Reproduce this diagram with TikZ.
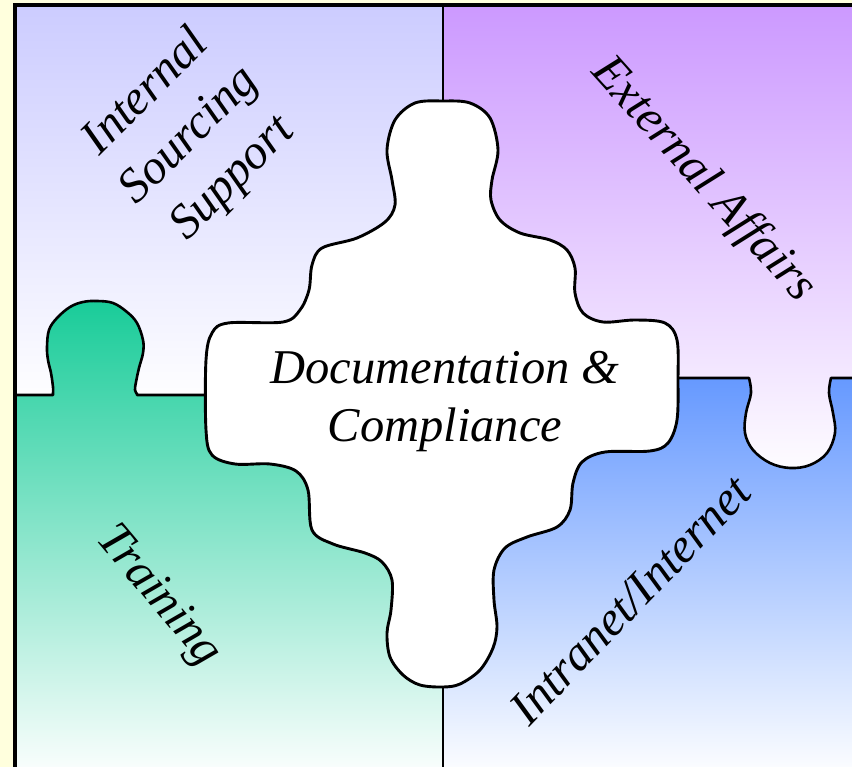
\documentclass[tikz,border=0pt]{standalone}
\usepackage{fontspec}
\setmainfont{Liberation Serif}
\begin{document}
\begin{tikzpicture}[x=1pt,y=-1pt,
  edge/.style={draw=black,line width=2.6pt,line join=round,line cap=round},
  lbl/.style={font=\fontsize{48.5}{61}\selectfont\itshape,align=center,inner sep=0pt}]
\definecolor{bgyel}{HTML}{FFFFDD}
\definecolor{tlblue}{HTML}{CCCCFF}
\definecolor{trpurp}{HTML}{CC99FF}
\definecolor{blgreen}{HTML}{19CC99}
\definecolor{brblue}{HTML}{6699FF}
\useasboundingbox (0,0) rectangle (852,767);
\fill[bgyel] (0,0) rectangle (852,767);
% top-left piece
\shade[top color=tlblue,bottom color=white!97!tlblue] (15,5) rectangle (443,395);
% bottom-right piece
\shade[top color=brblue,bottom color=white!97!brblue] (443,378) rectangle (852,767);
% bottom-left piece with knob
\shade[top color=blgreen,bottom color=white!97!blgreen]
  (15,395) -- (53,395) -- plot[smooth,tension=0.6] coordinates {(53,393) (53,387) (51,373) (48,360) (47,347) (49,330) (57,318) (70,307) (83,302) (97,301) (113,303) (127,312) (137,323) (143,340) (143,353) (139,368) (136,382) (135,390) (137,394)}
  -- (137,395) -- (443,395) -- (443,767) -- (15,767) -- cycle;
% top-right piece with knob
\shade[top color=trpurp,bottom color=white!97!trpurp]
  (443,5) -- (852,5) -- (852,378) -- (831,378) -- plot[smooth,tension=0.6] coordinates {(831,378) (829,393) (833,413) (835,433) (827,453) (810,465) (790,468) (770,463) (753,450) (745,433) (746,413) (751,393) (749,378)}
  -- (443,378) -- cycle;
% dividing lines
\draw[edge] (15,395) -- (53,395) -- plot[smooth,tension=0.6] coordinates {(53,393) (53,387) (51,373) (48,360) (47,347) (49,330) (57,318) (70,307) (83,302) (97,301) (113,303) (127,312) (137,323) (143,340) (143,353) (139,368) (136,382) (135,390) (137,394)} -- (137,395) -- (215,395);
\draw[edge] (670,378) -- (749,378) -- plot[smooth,tension=0.6] coordinates {(749,378) (751,393) (746,413) (745,433) (753,450) (770,463) (790,468) (810,465) (827,453) (835,433) (833,413) (829,393) (831,378)} -- (852,378);
\draw[edge] (443,5) -- (443,110);
\draw[edge] (443,680) -- (443,767);
% centre piece
\filldraw[fill=white,draw=black,line width=2.9pt]
  plot[smooth cycle,tension=0.55] coordinates {(443,101) (470,103) (490,118) (498,150) (492,180) (491,200) (500,220) (520,233) (550,240) (567,250) (575,268) (575,293) (583,313) (603,322) (635,320) (665,323) (677,340) (678,380) (677,420) (668,443) (650,451) (605,452) (582,462) (573,483) (570,510) (557,527) (527,537) (505,548) (494,570) (494,600) (497,627) (493,648) (480,670) (460,684) (443,687) (420,685) (403,675) (390,657) (387,633) (391,610) (392,580) (382,562) (365,553) (333,544) (312,530) (308,490) (296,471) (270,464) (235,464) (212,455) (206,430) (206,360) (212,333) (228,323) (283,322) (300,310) (309,290) (312,265) (322,248) (357,238) (385,222) (395,205) (392,180) (387,150) (395,120) (415,103)};
% frame
\draw[black,line width=3.4pt] (15,767) -- (15,5) -- (852,5);
% labels
\node[lbl,rotate=45] (iss) at (190,136) {Internal\\Sourcing\\Support};
\node[lbl,rotate=-48] (ea) at (703,180) {External Affairs};
\node[lbl,rotate=-50] (tr) at (158,597) {Training};
\node[lbl,rotate=46] (ii) at (630,600) {Intranet/Internet};
\node[lbl,font=\fontsize{48.5}{58}\selectfont\itshape] (dc) at (445,402) {Documentation \&\\Compliance};
\end{tikzpicture}
\end{document}
